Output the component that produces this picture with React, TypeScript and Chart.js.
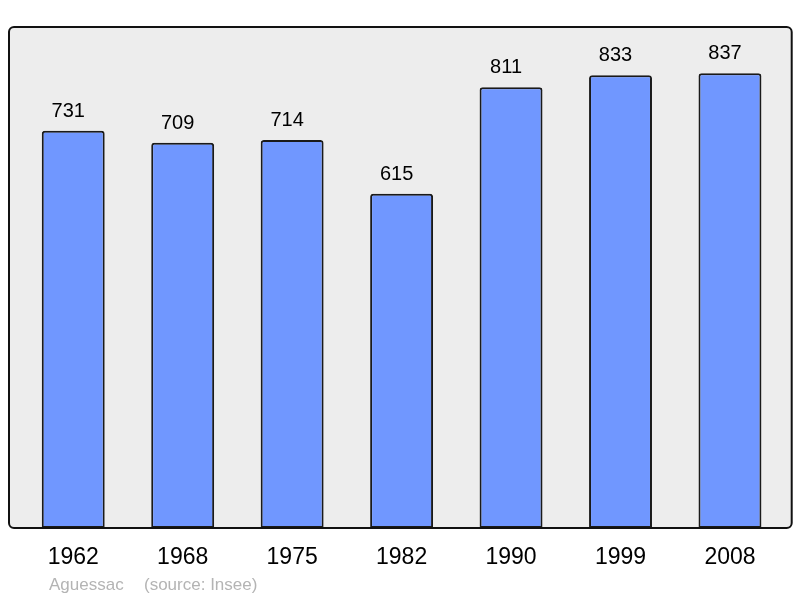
import React, { useEffect, useRef } from "react";
import Chart from "chart.js/auto";

const years = ["1962", "1968", "1975", "1982", "1990", "1999", "2008"];
const population = [731, 709, 714, 615, 811, 833, 837];
const townName = "Aguessac";
const sourceNote = "(source: Insee)";

const FONT = "'Liberation Sans', Arial, sans-serif";

// frame, value labels and footer
const decorPlugin = {
  id: "decor",
  beforeDraw(chart: any) {
    const { ctx, chartArea } = chart;
    const left = chartArea.left - 9.5;
    const right = chartArea.right + 7;
    ctx.save();
    ctx.beginPath();
    ctx.roundRect(left, chartArea.top, right - left, chartArea.bottom - chartArea.top, 5);
    ctx.fillStyle = "#ededed";
    ctx.fill();
    ctx.restore();
  },
  afterDatasetsDraw(chart: any) {
    const { ctx, chartArea } = chart;
    const left = chartArea.left - 9.5;
    const right = chartArea.right + 7;
    ctx.save();
    ctx.beginPath();
    ctx.roundRect(left, chartArea.top, right - left, chartArea.bottom - chartArea.top, 5);
    ctx.lineWidth = 2;
    ctx.strokeStyle = "#111";
    ctx.stroke();

    const meta = chart.getDatasetMeta(0);
    ctx.fillStyle = "#000";
    ctx.font = `20px ${FONT}`;
    ctx.textAlign = "center";
    ctx.textBaseline = "alphabetic";
    meta.data.forEach((bar: any, i: number) => {
      ctx.fillText(String(population[i]), bar.x - 5, bar.y - 14);
    });

    ctx.fillStyle = "#b4b4b4";
    ctx.font = `17px ${FONT}`;
    ctx.textAlign = "left";
    ctx.fillText(townName, 49, 590);
    ctx.fillText(sourceNote, 144, 590);
    ctx.restore();
  },
};

const PopulationChart: React.FC = () => {
  const canvasRef = useRef<HTMLCanvasElement | null>(null);
  const chartRef = useRef<Chart<"bar", number[], string> | null>(null);

  useEffect(() => {
    if (chartRef.current) chartRef.current.destroy();
    if (canvasRef.current) {
      chartRef.current = new Chart(canvasRef.current, {
        type: "bar",
        data: {
          labels: years,
          datasets: [
            {
              data: population,
              backgroundColor: "#7097ff",
              borderColor: "#1a1a1a",
              borderWidth: 2,
              borderRadius: { topLeft: 3, topRight: 3, bottomLeft: 0, bottomRight: 0 },
              borderSkipped: false,
              categoryPercentage: 1,
              barPercentage: 0.575,
            },
          ],
        },
        options: {
          animation: false,
          responsive: true,
          maintainAspectRatio: false,
          layout: { padding: { top: 27, left: 18.5, right: 15.3, bottom: 0 } },
          plugins: {
            legend: { display: false },
            tooltip: { enabled: false },
          },
          scales: {
            y: { display: false, min: 0, max: 922 },
            x: {
              grid: { display: false, drawTicks: false },
              border: { display: false },
              ticks: {
                color: "#000",
                padding: 16,
                font: { family: FONT, size: 23 },
              },
              afterFit: (axis: any) => {
                axis.height = 70;
              },
            },
          },
        },
        plugins: [decorPlugin],
      });
    }
    return () => {
      if (chartRef.current) {
        chartRef.current.destroy();
        chartRef.current = null;
      }
    };
  }, []);

  return <canvas ref={canvasRef}></canvas>;
};

export default function App() {
  return (
    <div style={{ position: "fixed", left: 0, top: 0, width: 800, height: 598, background: "#fff" }}>
      <PopulationChart />
    </div>
  );
}
